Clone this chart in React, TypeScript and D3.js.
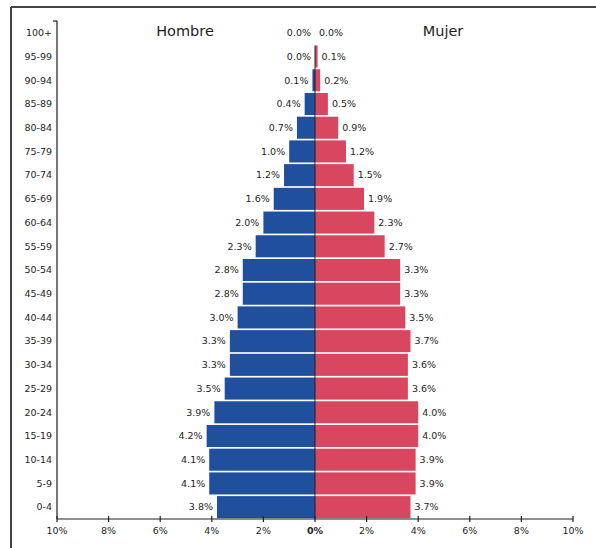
import * as d3 from 'd3';
import React from 'react';

const ages = ["100+", "95-99", "90-94", "85-89", "80-84", "75-79", "70-74", "65-69", "60-64", "55-59",
  "50-54", "45-49", "40-44", "35-39", "30-34", "25-29", "20-24", "15-19", "10-14", "5-9", "0-4"];
const male = [0.0, 0.0, 0.1, 0.4, 0.7, 1.0, 1.2, 1.6, 2.0, 2.3, 2.8, 2.8, 3.0, 3.3, 3.3, 3.5, 3.9, 4.2, 4.1, 4.1, 3.8];
const female = [0.0, 0.1, 0.2, 0.5, 0.9, 1.2, 1.5, 1.9, 2.3, 2.7, 3.3, 3.3, 3.5, 3.7, 3.6, 3.6, 4.0, 4.0, 3.9, 3.9, 3.7];
const ticks = [-10, -8, -6, -4, -2, 0, 2, 4, 6, 8, 10];

const W = 596, H = 548;
const font = "'DejaVu Sans', sans-serif";
const blue = "#1f4f9d";
const red = "#d9465f";
const ink = "#1e1e1e";

export default function App() {
  const x = d3.scaleLinear().domain([-10, 10]).range([57, 573]);
  const y = d3.scaleBand<string>().domain(ages).range([21, 519]).paddingInner(0.07).paddingOuter(0.035);
  const axisY = 519;
  const cx = x(0);

  return (
    <svg width={W} height={H} style={{position: "absolute", left: 0, top: 0, background: "#fff"}}>
      {/* frame */}
      <line x1={11} y1={7} x2={W} y2={7} stroke="#444" strokeWidth={2} />
      <line x1={11} y1={7} x2={11} y2={H} stroke="#444" strokeWidth={2} />

      <text x={185} y={36} textAnchor="middle" fontFamily={font} fontSize={14.5} fill={ink}>Hombre</text>
      <text x={443} y={36} textAnchor="middle" fontFamily={font} fontSize={14.5} fill={ink}>Mujer</text>

      {ages.map((a, i) => {
        const yy = y(a)!;
        const bh = y.bandwidth();
        const mid = yy + bh / 2;
        return (
          <g key={a}>
            <rect x={x(-male[i])} y={yy} width={cx - x(-male[i])} height={bh} fill={blue} />
            <rect x={cx} y={yy} width={x(female[i]) - cx} height={bh} fill={red} />
            <text x={x(-male[i]) - 4} y={mid} dy="0.35em" textAnchor="end" fontFamily={font} fontSize={9.5} fill={ink}>
              {male[i].toFixed(1)}%
            </text>
            <text x={x(female[i]) + 4} y={mid} dy="0.35em" textAnchor="start" fontFamily={font} fontSize={9.5} fill={ink}>
              {female[i].toFixed(1)}%
            </text>
            <text x={52} y={mid} dy="0.35em" textAnchor="end" fontFamily={font} fontSize={9.5} fill={ink}>{a}</text>
          </g>
        );
      })}

      {/* center line */}
      <line x1={cx} y1={y("95-99")!} x2={cx} y2={axisY} stroke="#222" strokeWidth={1} />

      {/* y axis */}
      <line x1={57} y1={21} x2={57} y2={axisY} stroke={ink} strokeWidth={1.2} />
      <line x1={53} y1={21} x2={57} y2={21} stroke={ink} strokeWidth={1.2} />

      {/* x axis */}
      <line x1={57} y1={axisY} x2={573} y2={axisY} stroke={ink} strokeWidth={1.2} />
      {ticks.map(t => (
        <g key={t}>
          <line x1={x(t)} y1={axisY - 3} x2={x(t)} y2={axisY + 3} stroke={ink} strokeWidth={1.2} />
          <text x={x(t)} y={axisY + 15} textAnchor="middle" fontFamily={font} fontSize={9.5}
                fontWeight={t === 0 ? "bold" : "normal"} fill={ink}>
            {Math.abs(t)}%
          </text>
        </g>
      ))}
    </svg>
  );
}
